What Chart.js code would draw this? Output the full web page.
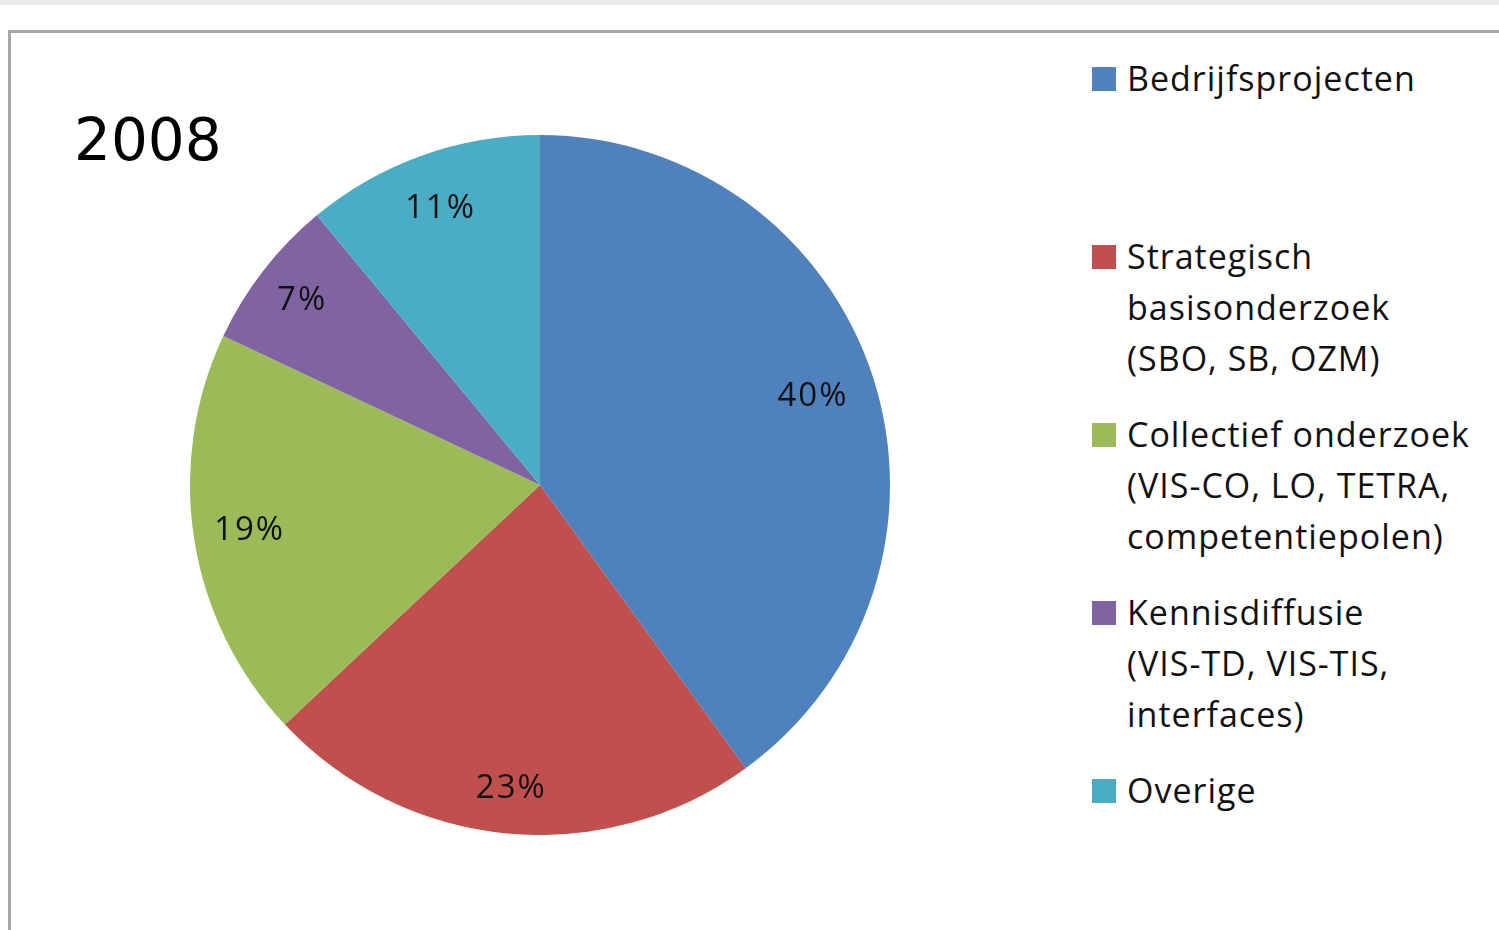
<!DOCTYPE html>
<html>
<head>
<meta charset="utf-8">
<script src="https://cdn.jsdelivr.net/npm/chart.js@4.4.1/dist/chart.umd.min.js"></script>
<style>
  html, body { margin: 0; padding: 0; background: #fff; overflow: hidden; }
  body { width: 1499px; height: 930px; position: relative; font-family: "Open Sans", sans-serif; }
  .topbar { position: absolute; left: 0; top: 0; width: 1499px; height: 5px; background: #ececec; }
  .frame { position: absolute; left: 8px; top: 30px; width: 1600px; height: 1000px; border: 3px solid #a6a6a6; box-sizing: border-box; }
  .year { position: absolute; left: 74px; top: 106px; font-family: "DejaVu Sans", sans-serif; font-size: 58px; color: #000; }
  .pie-wrap { position: absolute; left: 190px; top: 135px; width: 700px; height: 700px; }
  #legend { position: absolute; left: 1092px; top: 53px; }
  .legend-item { position: relative; height: 178px; padding-left: 35px; font-size: 34px; line-height: 51px; color: #111; letter-spacing: 1px; }
  .legend-marker { position: absolute; left: 0; top: 14px; width: 24px; height: 24px; }
</style>
</head>
<body>
<div class="topbar"></div>
<div class="frame"></div>
<div class="year">2008</div>
<div class="pie-wrap"><canvas id="pieChart"></canvas></div>
<div id="legend"></div>

<script>
// данные диаграммы
const categories = [
    ["Bedrijfsprojecten"],
    ["Strategisch", "basisonderzoek", "(SBO, SB, OZM)"],
    ["Collectief onderzoek", "(VIS-CO, LO, TETRA,", "competentiepolen)"],
    ["Kennisdiffusie", "(VIS-TD, VIS-TIS,", "interfaces)"],
    ["Overige"]
];
const shares = [40, 23, 19, 7, 11];
const sliceColors = ['#4F81BD', '#C0504D', '#9BBB59', '#8064A2', '#4BACC6'];
// насколько далеко от центра стоит подпись (доля радиуса)
const labelRadius = [0.82, 0.87, 0.84, 0.86, 0.84];

// подписи процентов внутри секторов
const pctLabels = {
    id: 'pctLabels',
    afterDatasetsDraw(chart) {
        const ctx = chart.ctx;
        const meta = chart.getDatasetMeta(0);
        const total = shares.reduce((a, b) => a + b, 0);
        ctx.save();
        ctx.font = '33px "Open Sans", sans-serif';
        ctx.letterSpacing = '2px';
        ctx.fillStyle = '#111';
        ctx.textAlign = 'center';
        ctx.textBaseline = 'middle';
        meta.data.forEach((arc, i) => {
            const p = arc.getProps(['x', 'y', 'startAngle', 'endAngle', 'outerRadius']);
            const mid = (p.startAngle + p.endAngle) / 2;
            const r = p.outerRadius * labelRadius[i];
            ctx.fillText(Math.round(shares[i] / total * 100) + '%', p.x + Math.cos(mid) * r, p.y + Math.sin(mid) * r);
        });
        ctx.restore();
    }
};

new Chart(document.getElementById('pieChart'), {
    type: 'pie',
    data: {
        labels: categories.map(c => c.join(' ')),
        datasets: [{ data: shares, backgroundColor: sliceColors, borderWidth: 0 }]
    },
    options: {
        responsive: true,
        maintainAspectRatio: false,
        animation: false,
        layout: { padding: 0 },
        plugins: { legend: { display: false }, tooltip: { enabled: false } }
    },
    plugins: [pctLabels]
});

document.getElementById('legend').innerHTML = categories.map((lines, i) =>
    `<div class="legend-item"><span class="legend-marker" style="background:${sliceColors[i]}"></span>${lines.join('<br>')}</div>`
).join('');
</script>
</body>
</html>
